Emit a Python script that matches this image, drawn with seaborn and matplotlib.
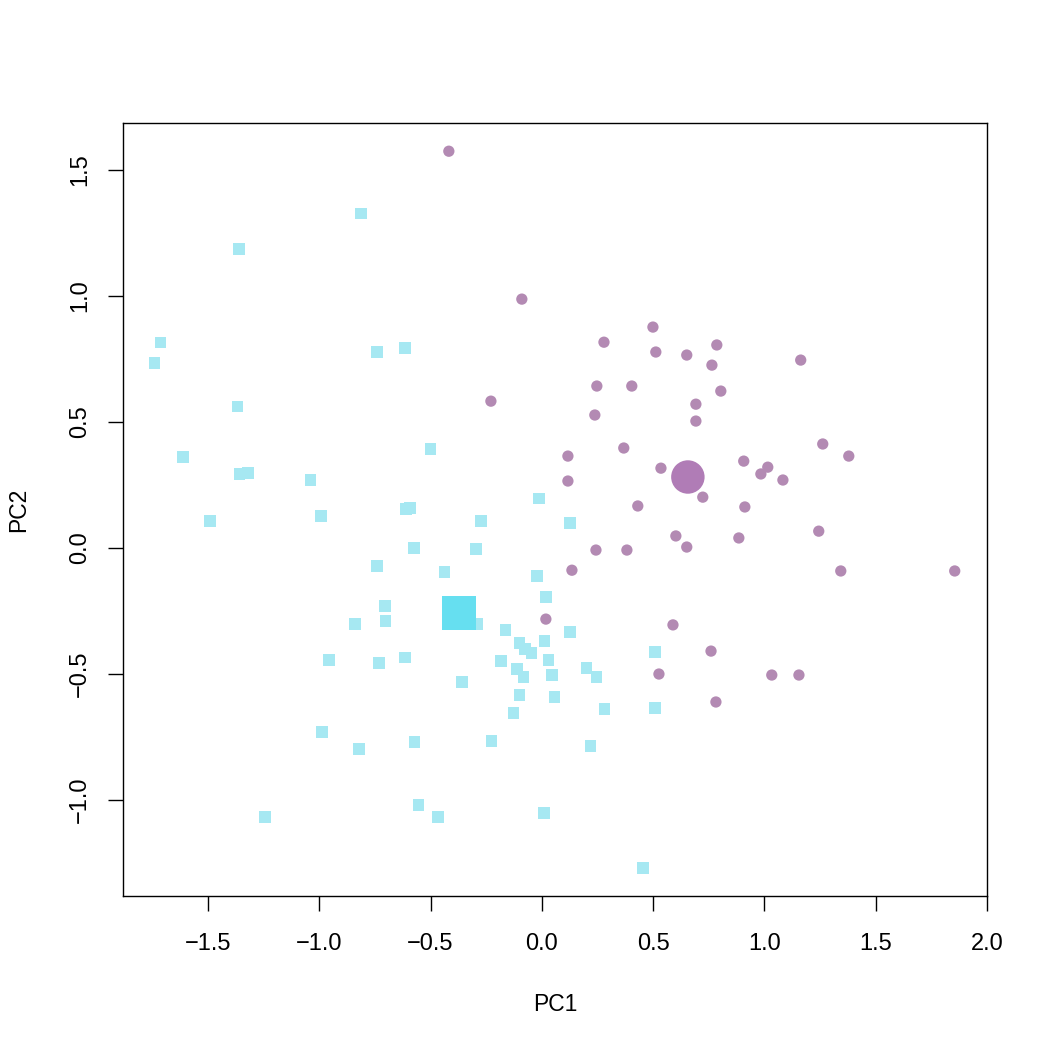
import numpy as np
import pandas as pd
import matplotlib
matplotlib.use("Agg")
import matplotlib.pyplot as plt
import seaborn as sns

# --- data ---
cyan_pc1 = [-0.813, -1.361, -1.712, -1.739, -0.741, -0.615, -1.366, -1.613, -1.357, -1.321,
            -1.038, -0.499, -1.491, -0.993, -0.611, -0.593, -0.274, -0.013, -0.575, -0.296,
            0.126, -0.741, -0.436, -0.022, 0.018, -0.705, -0.701, -0.840, -0.292, -0.162,
            0.126, -0.099, -0.076, -0.045, 0.013, -0.957, -0.615, -0.732, -0.184, -0.112,
            -0.081, 0.031, 0.045, 0.202, 0.247, -0.359, -0.099, 0.058, -0.126, 0.283,
            0.508, 0.508, -0.988, -0.822, -0.571, -0.225, 0.220, -0.553, -0.467, -1.244,
            0.009, 0.454]
cyan_pc2 = [1.329, 1.187, 0.817, 0.734, 0.778, 0.794, 0.563, 0.361, 0.294, 0.298,
            0.270, 0.393, 0.107, 0.127, 0.155, 0.159, 0.107, 0.198, 0.000, -0.004,
            0.099, -0.071, -0.095, -0.111, -0.194, -0.230, -0.290, -0.302, -0.302, -0.325,
            -0.333, -0.377, -0.401, -0.417, -0.369, -0.444, -0.433, -0.456, -0.448, -0.480,
            -0.512, -0.444, -0.504, -0.476, -0.512, -0.532, -0.583, -0.591, -0.655, -0.639,
            -0.413, -0.635, -0.730, -0.798, -0.770, -0.766, -0.786, -1.020, -1.067, -1.067,
            -1.052, -1.270]

purple_pc1 = [-0.418, -0.090, -0.229,
              0.499, 0.279, 0.512, 0.651, 0.786, 0.764, 1.163, 0.247, 0.404, 0.804,
              0.692, 0.238, 0.692, 0.368, 1.262, 1.379, 0.117, 0.117, 0.535, 0.907,
              1.015, 0.984, 1.083, 0.723, 0.431, 0.912,
              0.602, 0.243, 0.382, 0.651, 0.885, 1.244, 0.135, 1.343, 1.855, 0.589,
              0.760, 0.526, 1.033, 1.155, 0.782,
              0.018]
purple_pc2 = [1.575, 0.988, 0.583,
              0.877, 0.817, 0.778, 0.766, 0.806, 0.726, 0.746, 0.643, 0.643, 0.623,
              0.571, 0.528, 0.504, 0.397, 0.413, 0.365, 0.365, 0.266, 0.317, 0.345,
              0.321, 0.294, 0.270, 0.202, 0.167, 0.163,
              0.048, -0.008, -0.008, 0.004, 0.040, 0.067, -0.088, -0.091, -0.091, -0.305,
              -0.409, -0.500, -0.504, -0.504, -0.611,
              -0.282]

centroid_groups = ["cyan", "purple"]
centroid_pc1 = [-0.373, 0.656]
centroid_pc2 = [-0.258, 0.282]

x_ticks = [-1.5, -1.0, -0.5, 0.0, 0.5, 1.0, 1.5, 2.0]
y_ticks = [-1.0, -0.5, 0.0, 0.5, 1.0, 1.5]

# --- build tables ---
df = pd.DataFrame({
    "PC1": cyan_pc1 + purple_pc1,
    "PC2": cyan_pc2 + purple_pc2,
    "group": ["cyan"] * len(cyan_pc1) + ["purple"] * len(purple_pc1),
})
cent = pd.DataFrame({"PC1": centroid_pc1, "PC2": centroid_pc2, "group": centroid_groups})

sns.set_style("white")
plt.rcParams["font.family"] = ["Liberation Sans", "DejaVu Sans"]

fig = plt.figure(figsize=(10.5, 10.5), dpi=100)
ax = fig.add_axes([123 / 1050, 1 - 896 / 1050, (987 - 123) / 1050, (896 - 123) / 1050])

sns.scatterplot(data=df, x="PC1", y="PC2", hue="group", style="group",
                palette={"cyan": "#A6E8F2", "purple": "#B38AB3"},
                markers={"cyan": "s", "purple": "o"},
                s=66, linewidth=0, legend=False, ax=ax)
sns.scatterplot(data=cent, x="PC1", y="PC2", hue="group", style="group",
                palette={"cyan": "#66DFF0", "purple": "#B07CB6"},
                markers={"cyan": "s", "purple": "o"},
                s=580, linewidth=0, legend=False, ax=ax)

ax.set_xlim(-1.882, 1.999)
ax.set_ylim(-1.381, 1.687)
ax.set_xticks(x_ticks)
ax.set_yticks(y_ticks)
ax.set_xticklabels([f"{t:.1f}".replace("-", "\u2212") for t in x_ticks])
ax.set_yticklabels([f"{t:.1f}".replace("-", "\u2212") for t in y_ticks], rotation=90, va="center")

for sp in ax.spines.values():
    sp.set_visible(True)
    sp.set_color("black")
    sp.set_linewidth(1.0)

ax.tick_params(axis="both", which="major", direction="out", length=10.5, width=1.0,
               color="black", labelsize=17, labelcolor="black",
               bottom=True, left=True)
ax.tick_params(axis="x", pad=16.5)
ax.tick_params(axis="y", pad=12.5)

ax.set_xlabel("PC1", fontsize=16.5, labelpad=27, color="black")
ax.set_ylabel("PC2", fontsize=16.5, labelpad=28, color="black")
ax.grid(False)

fig.savefig("out.png", dpi=100, facecolor="white")
